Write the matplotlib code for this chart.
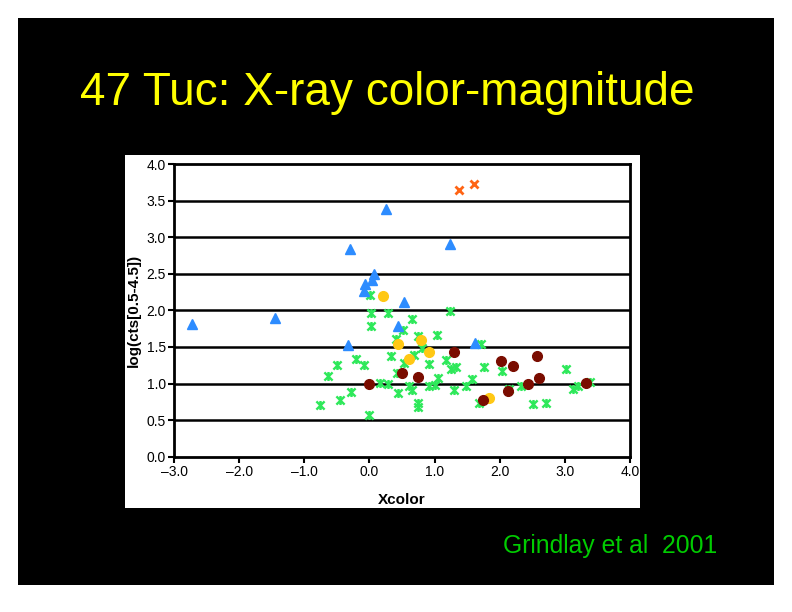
import matplotlib
matplotlib.use("Agg")
import matplotlib.pyplot as plt
from matplotlib.path import Path
from matplotlib.patches import Rectangle

# ---- data ----
blue_x = [-2.73, -1.45, -0.33, -0.30, -0.07, -0.08, 0.07, 0.04, 0.53, 0.44, 0.25, 1.24, 1.62]
blue_y = [1.81, 1.89, 1.53, 2.84, 2.36, 2.27, 2.49, 2.41, 2.12, 1.78, 3.38, 2.91, 1.55]

orange_x = [1.37, 1.61]
orange_y = [3.65, 3.73]

yellow_x = [0.21, 0.44, 0.79, 0.91, 0.60, 1.84]
yellow_y = [2.20, 1.54, 1.60, 1.43, 1.33, 0.80]

red_x = [0.00, 0.50, 0.74, 1.30, 2.02, 2.20, 2.58, 2.61, 2.44, 2.12, 1.75, 3.33]
red_y = [0.99, 1.15, 1.09, 1.43, 1.31, 1.24, 1.37, 1.08, 1.00, 0.90, 0.78, 1.01]

green_x = [0.01, 0.02, 0.28, 1.23, 0.66, 0.02, 0.52, 1.04, 0.75, 0.41,
           1.72, 0.81, -0.20, -0.50, -0.09, 0.33, 0.68, 0.53, 0.92, 1.18,
           1.25, 1.33, 1.76, 2.04, 3.01, 0.43, -0.63, 1.06, 1.57, 0.16,
           0.28, 0.61, 0.91, 1.01, 1.49, 2.33, 3.20, 3.13, 3.38, 0.65,
           1.30, 2.15, 0.44, -0.29, -0.45, -0.76, 0.75, 0.75, 1.68, 2.51,
           2.71, 0.00]
green_y = [2.21, 1.97, 1.97, 1.99, 1.88, 1.79, 1.73, 1.66, 1.65, 1.61,
           1.54, 1.48, 1.34, 1.25, 1.25, 1.37, 1.39, 1.28, 1.26, 1.32,
           1.20, 1.22, 1.22, 1.17, 1.20, 1.15, 1.10, 1.07, 1.06, 1.01,
           0.99, 0.97, 0.97, 0.98, 0.97, 0.97, 0.97, 0.93, 1.02, 0.91,
           0.91, 0.92, 0.87, 0.89, 0.78, 0.70, 0.74, 0.68, 0.73, 0.72,
           0.74, 0.57]

x_ticks = [-3, -2, -1, 0, 1, 2, 3, 4]
y_ticks = [0.0, 0.5, 1.0, 1.5, 2.0, 2.5, 3.0, 3.5, 4.0]

title = "47 Tuc: X-ray color-magnitude"
credit = "Grindlay et al  2001"

# ---- figure ----
W, H = 792, 612
fig = plt.figure(figsize=(W / 100, H / 100), dpi=100, facecolor="white")

# black slide background
fig.patches.append(Rectangle((18 / W, 1 - 585 / H), (774 - 18) / W, (585 - 18) / H,
                             transform=fig.transFigure, facecolor="black",
                             edgecolor="none", zorder=-3))
# white chart panel
fig.patches.append(Rectangle((125 / W, 1 - 508 / H), (640 - 125) / W, (508 - 155) / H,
                             transform=fig.transFigure, facecolor="white",
                             edgecolor="none", zorder=-2))

fig.text(80 / W, 1 - 105 / H, title, color="#ffff00", fontsize=33,
         family=["Liberation Sans", "DejaVu Sans"],
         ha="left", va="baseline")
fig.text(503 / W, 1 - 553 / H, credit, color="#00cc00", fontsize=17.8,
         family=["Liberation Sans", "DejaVu Sans"], ha="left", va="baseline")

ax = fig.add_axes([174 / W, 1 - 456.7 / H, (630 - 174) / W, (456.7 - 164) / H])
ax.set_facecolor("white")
ax.set_xlim(-3, 4)
ax.set_ylim(0, 4)

for yv in y_ticks[1:-1]:
    ax.axhline(yv, color="black", lw=1.8, zorder=1)

star = Path([(-1, -1), (1, 1), (-1, 1), (1, -1), (0, 1.1), (0, -1.1)],
            [Path.MOVETO, Path.LINETO, Path.MOVETO, Path.LINETO,
             Path.MOVETO, Path.LINETO])

ax.plot(green_x, green_y, ls="none", marker=star, ms=6.5, mec="#2ee85a", mew=1.7,
        mfc="none", zorder=3)
ax.plot(orange_x, orange_y, ls="none", marker="x", ms=6, mec="#ff6414", mew=2,
        zorder=4)
ax.plot(blue_x, blue_y, ls="none", marker="^", ms=7, mfc="#2d8cff", mec="#2d8cff",
        zorder=4)
ax.plot(yellow_x, yellow_y, ls="none", marker="o", ms=7, mfc="#ffc814", mec="#ffc814",
        zorder=4)
ax.plot(red_x, red_y, ls="none", marker="o", ms=7, mfc="#7a0c00", mec="#7a0c00",
        zorder=5)

ax.set_xticks(x_ticks)
ax.set_xticklabels([f"{v:.1f}".replace("-", "\u2013") for v in x_ticks])
ax.set_yticks(y_ticks)
ax.set_yticklabels([f"{v:.1f}" for v in y_ticks])
ax.tick_params(axis="both", direction="out", length=4, width=1.5, color="black",
               labelsize=10, pad=2)
for lab in ax.get_xticklabels() + ax.get_yticklabels():
    lab.set_family(["Liberation Sans", "DejaVu Sans"])

for s in ax.spines.values():
    s.set_color("black")
    s.set_linewidth(2)

ax.set_xlabel("Xcolor", fontsize=11, fontweight="bold",
              family=["Liberation Sans", "DejaVu Sans"], labelpad=10)
ax.set_ylabel("log(cts[0.5-4.5])", fontsize=11, fontweight="bold",
              family=["Liberation Sans", "DejaVu Sans"], labelpad=4)

fig.savefig("out.png", dpi=100, facecolor="white")
